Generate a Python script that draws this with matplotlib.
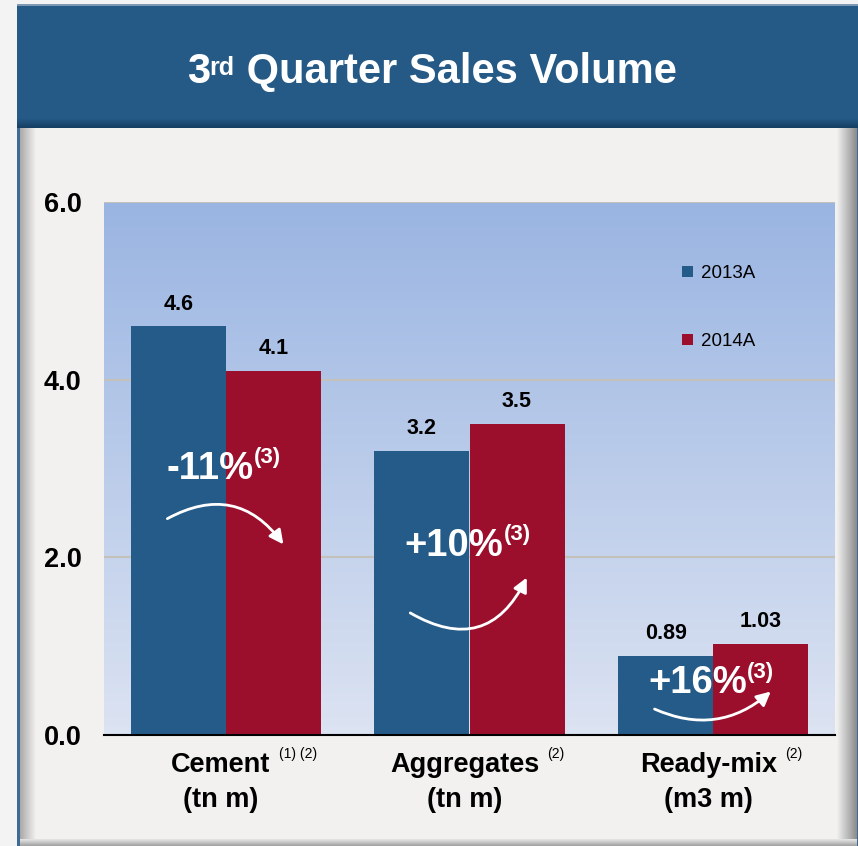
import numpy as np
import matplotlib
matplotlib.use("Agg")
import matplotlib.pyplot as plt
from matplotlib.patches import Rectangle, FancyArrowPatch, Patch
from matplotlib.colors import LinearSegmentedColormap

plt.rcParams['font.family'] = ['Liberation Sans', 'DejaVu Sans']

# ---- data ----
categories = ["Cement", "Aggregates", "Ready-mix"]
cat_notes = ["(1) (2)", "(2)", "(2)"]
units = ["(tn m)", "(tn m)", "(m3 m)"]
series_names = ["2013A", "2014A"]
vals_2013 = [4.6, 3.2, 0.89]
vals_2014 = [4.1, 3.5, 1.03]
labels_2013 = ["4.6", "3.2", "0.89"]
labels_2014 = ["4.1", "3.5", "1.03"]
changes = ["-11%", "+10%", "+16%"]
change_note = "(3)"
yticks = [0.0, 2.0, 4.0, 6.0]
ytick_labels = ["0.0", "2.0", "4.0", "6.0"]
title_main = "3"
title_sup = "rd"
title_rest = " Quarter Sales Volume"

C13 = "#255B89"
C14 = "#9B0E2C"

W, H = 858, 846
fig = plt.figure(figsize=(W / 100, H / 100), dpi=100)
fig.patch.set_facecolor("#F3F3F3")

# decoration layer in pixel coordinates
bg = fig.add_axes([0, 0, 1, 1])
bg.set_xlim(0, W)
bg.set_ylim(H, 0)
bg.axis("off")
bg.set_zorder(0)

def hgrad(x0, x1, y0, y1, c0, c1, z):
    cm = LinearSegmentedColormap.from_list("g", [c0, c1])
    bg.imshow(np.linspace(0, 1, 64).reshape(1, -1), extent=[x0, x1, y1, y0],
              cmap=cm, aspect="auto", zorder=z, interpolation="bilinear")

def vgrad(x0, x1, y0, y1, c0, c1, z):
    cm = LinearSegmentedColormap.from_list("g", [c0, c1])
    bg.imshow(np.linspace(0, 1, 64).reshape(-1, 1), extent=[x0, x1, y1, y0],
              cmap=cm, aspect="auto", zorder=z, interpolation="bilinear", origin="upper")

# body
bg.add_patch(Rectangle((17, 5), W - 17, H - 5, facecolor="#F2F1EF", edgecolor="none", zorder=1))
# left border + inner shadow
bg.add_patch(Rectangle((17, 5), 3, H - 5, facecolor="#3E6A93", edgecolor="none", zorder=3))
hgrad(20, 36, 128, H, "#A9A9A9", "#F2F1EF", 2)
# right shadow
hgrad(837, 857, 5, H, "#F0F0F0", "#8C8C8C", 2)
bg.add_patch(Rectangle((857, 5), 1, H - 5, facecolor="#3E6A93", edgecolor="none", zorder=3))
# bottom shadow
vgrad(20, 857, 839, H, "#E8E8E8", "#A0A0A0", 2)
# title band
bg.add_patch(Rectangle((17, 5), W - 17, 123, facecolor="#255A87", edgecolor="none", zorder=4))
vgrad(17, W, 118, 128, "#255A87", "#163E63", 4.5)
bg.add_patch(Rectangle((17, 4), W - 17, 2, facecolor="#7E98B3", edgecolor="none", zorder=4.6))

# title
t1 = bg.text(187, 83, title_main, color="white", fontsize=30, fontweight="bold",
             ha="left", va="baseline", zorder=6)
t2 = bg.annotate(title_sup, xy=(1, 1), xycoords=t1, xytext=(-0.5, -3), textcoords="offset points",
                 ha="left", va="top", color="white", fontsize=18, fontweight="bold", zorder=6)
t3 = bg.annotate(title_rest, xy=(1, 83), xycoords=(t2, "data"), xytext=(0, 0),
                 textcoords="offset points", ha="left", va="baseline", color="white",
                 fontsize=30, fontweight="bold", zorder=6)

# axes
ax = fig.add_axes([104 / W, 1 - 735 / H, (835 - 104) / W, (735 - 202) / H])
ax.set_zorder(3)
ax.set_xlim(-0.5, 2.5)
ax.set_ylim(0, 6)
ax.patch.set_alpha(0)

grad = np.linspace(0, 1, 256).reshape(-1, 1)
cmap = LinearSegmentedColormap.from_list("bg", ["#DCE3F2", "#9AB5E2"])
ax.imshow(grad, extent=[-0.5, 2.5, 0, 6], origin="lower", aspect="auto", cmap=cmap, zorder=0)

for yv in yticks[1:]:
    ax.axhline(yv, color="#C4C0BA", lw=1.5, zorder=1)

x = np.arange(len(categories))
bw = 0.39
b1 = ax.bar(x - bw / 2, vals_2013, bw, color=C13, zorder=2, label=series_names[0])
b2 = ax.bar(x + bw / 2, vals_2014, bw, color=C14, zorder=2, label=series_names[1])

for bars, labs in ((b1, labels_2013), (b2, labels_2014)):
    for rect, lab in zip(bars, labs):
        ax.annotate(lab, (rect.get_x() + rect.get_width() / 2, rect.get_height()),
                    xytext=(0, 12), textcoords="offset points", ha="center", va="baseline",
                    fontsize=15.5, fontweight="bold", color="black", zorder=5)

for s in ax.spines.values():
    s.set_visible(False)
ax.axhline(0, color="black", lw=1.5, zorder=4, clip_on=False)

ax.set_yticks(yticks)
ax.set_yticklabels(ytick_labels, fontsize=19.5, fontweight="bold")
ax.tick_params(axis="y", length=0, pad=16)
ax.set_xticks([])

# category labels
for i, (c, n, u) in enumerate(zip(categories, cat_notes, units)):
    tc = ax.text(i - 0.02, -0.19, c, transform=ax.transData, ha="center", va="top",
                 fontsize=19.5, fontweight="bold", clip_on=False)
    ax.annotate(n, xy=(1, 0.9), xycoords=tc, xytext=(6, 0), textcoords="offset points",
                ha="left", va="center", fontsize=10, annotation_clip=False)
    ax.text(i - 0.02, -0.59, u, transform=ax.transData, ha="center", va="top",
            fontsize=19.5, fontweight="bold", clip_on=False)

# change annotations
change_pos = [3.0, 2.13, 0.58]
for i, (ch, yy) in enumerate(zip(changes, change_pos)):
    tm = ax.text(i - 0.063, yy, ch, ha="center", va="center", fontsize=27.5,
                 fontweight="bold", color="white", zorder=6)
    ax.annotate(change_note, xy=(1, 0.8), xycoords=tm, xytext=(0, 0), textcoords="offset points",
                ha="left", va="center", fontsize=16, fontweight="bold", color="white", zorder=6)

arrows = [((-0.25, 2.42), (0.243, 2.12), -0.45),
          ((0.747, 1.39), (1.24, 1.80), 0.55),
          ((1.749, 0.305), (2.245, 0.51), 0.33)]
for (p0, p1, rad) in arrows:
    ax.add_patch(FancyArrowPatch(p0, p1, connectionstyle=f"arc3,rad={rad}",
                                 arrowstyle="-|>,head_length=0.6,head_width=0.3",
                                 mutation_scale=14, color="white", lw=2, zorder=6))

handles = [Patch(facecolor=C13, edgecolor="none"), Patch(facecolor=C14, edgecolor="none")]
ax.legend(handles, series_names, loc="upper left", bbox_to_anchor=(0.791, 0.882),
          frameon=False, fontsize=13.5, handlelength=0.55, handleheight=0.55,
          handletextpad=0.45, labelspacing=2.75, borderaxespad=0, borderpad=0)

fig.savefig("out.png", dpi=100, facecolor=fig.get_facecolor())
